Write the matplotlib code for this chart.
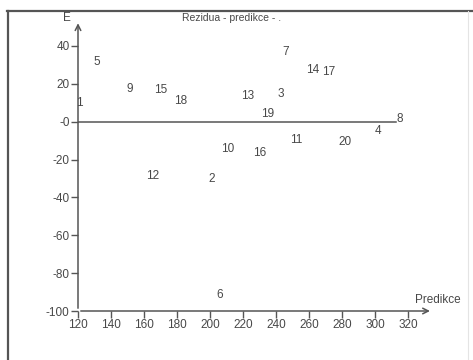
import matplotlib.pyplot as plt

plt.rcParams['font.family'] = ['Liberation Sans', 'DejaVu Sans']

# residual vs prediction, point labels (observation numbers)
ids = ['1', '5', '9', '15', '18', '13', '7', '3', '19', '14', '17', '8',
       '4', '20', '11', '16', '10', '12', '2', '6']
pred = [120.6, 131.5, 151.6, 170.4, 182.0, 223.0, 246.0, 243.0, 235.0, 262.0,
        271.7, 315.0, 301.6, 282.0, 252.0, 230.0, 210.5, 165.0, 200.8, 205.7]
resid = [10.0, 31.7, 17.5, 17.0, 11.0, 13.8, 37.0, 14.8, 4.2, 27.5,
         26.5, 1.6, -4.8, -10.6, -9.5, -16.4, -14.3, -28.6, -30.0, -91.5]

xticks = [120, 140, 160, 180, 200, 220, 240, 260, 280, 300, 320]
yticks = [40, 20, 0, -20, -40, -60, -80, -100]
ytick_labels = ['40', '20', '-0', '-20', '-40', '-60', '-80', '-100']

W, H = 473, 360
fig = plt.figure(figsize=(W / 100, H / 100), dpi=100)
fig.patch.set_facecolor('white')

# outer frame: dark top and left, faint right
top = 1 - 10.5 / H
fig.lines.append(plt.Line2D([7 / W, 1], [top, top], transform=fig.transFigure,
                            color='#555555', lw=1.6))
fig.lines.append(plt.Line2D([7.5 / W, 7.5 / W], [0, top], transform=fig.transFigure,
                            color='#555555', lw=1.6))
fig.lines.append(plt.Line2D([468 / W, 468 / W], [0, top], transform=fig.transFigure,
                            color='#e4e4e4', lw=0.8))

ax = fig.add_axes([78 / W, (H - 311) / H, 330 / W, 265 / H])
ax.set_xlim(120, 320)
ax.set_ylim(-100, 40)
for s in ax.spines.values():
    s.set_visible(False)

gray = '#555555'
txt = '#484848'

# axes with arrows
ax.annotate('', xy=(120, 53.5), xytext=(120, -100), xycoords='data',
            arrowprops=dict(arrowstyle='->', color=gray, lw=1.1), annotation_clip=False)
ax.annotate('', xy=(335, -100), xytext=(120, -100), xycoords='data',
            arrowprops=dict(arrowstyle='->', color=gray, lw=1.1), annotation_clip=False)
ax.plot([120, 313], [0, 0], color=gray, lw=1.1)

ax.set_xticks(xticks)
ax.set_yticks(yticks)
ax.set_yticklabels(ytick_labels)
ax.tick_params(direction='out', length=5, width=1, color=gray, labelcolor=txt,
               labelsize=8.5, pad=1)

for lab, x, y in zip(ids, pred, resid):
    ax.text(x, y, lab, ha='center', va='center', fontsize=8.5, color=txt)

ax.text(113, 55, 'E', ha='center', va='center', fontsize=8.5, color=txt, clip_on=False)
ax.text(338, -94, 'Predikce', ha='center', va='center', fontsize=8.5, color=txt, clip_on=False)
fig.text(232 / W, 1 - 18 / H, 'Rezidua - predikce - .', ha='center', va='center',
         fontsize=7.5, color=txt)

fig.savefig('out.png', dpi=100, facecolor='white')
